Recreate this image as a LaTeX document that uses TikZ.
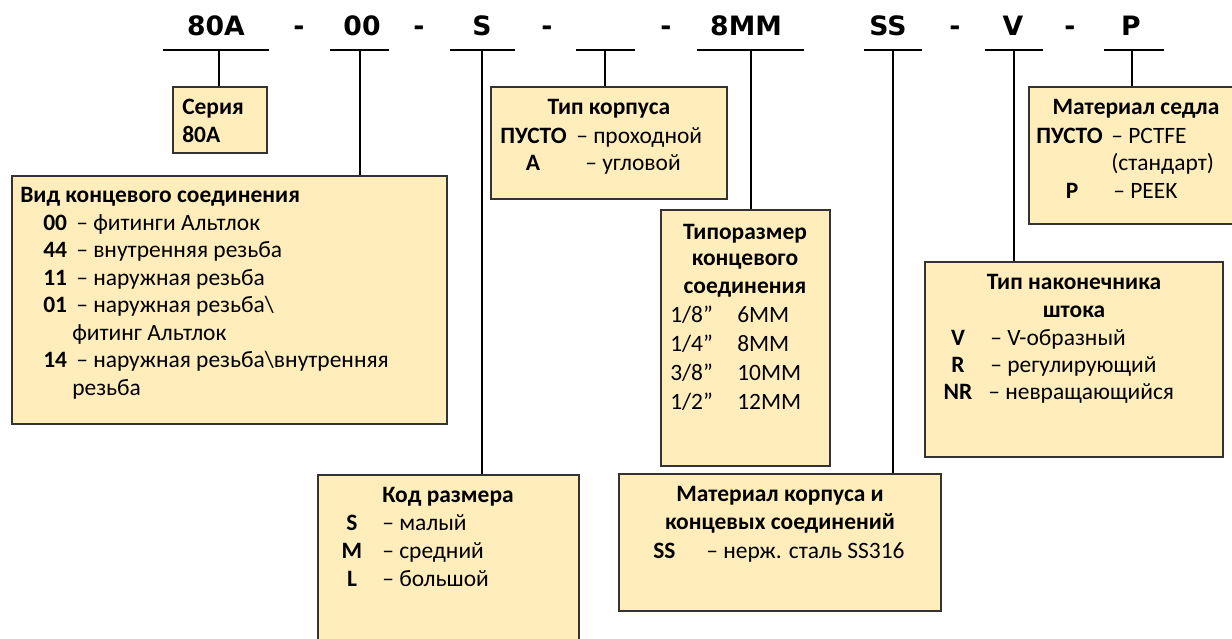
\documentclass[tikz,border=0pt]{standalone}
\usepackage{fontspec}
\setmainfont{Carlito}
\newfontfamily\codefont{DejaVu Sans}
\usetikzlibrary{fit}
\definecolor{boxfill}{HTML}{FFEEBB}
\definecolor{boxline}{HTML}{333333}
\tikzset{
  box/.style={draw=boxline, fill=boxfill, line width=1.1pt, inner sep=0pt},
  conn/.style={draw=black, line width=0.8pt},
  uline/.style={draw=black, line width=0.8pt},
  code/.style={inner sep=0pt, anchor=base, font=\codefont\bfseries\fontsize{20}{24}\selectfont},
  txt/.style={inner sep=0pt, anchor=base west, font=\fontsize{17.6}{21}\selectfont},
  txtc/.style={inner sep=0pt, anchor=base, font=\fontsize{17.6}{21}\selectfont},
  bt/.style={txt, font=\bfseries\fontsize{17.6}{21}\selectfont},
  btc/.style={txtc, font=\bfseries\fontsize{17.6}{21}\selectfont},
}
\begin{document}
\begin{tikzpicture}[x=0.75pt, y=-0.75pt]
\useasboundingbox (0,0) rectangle (1232,639);
\clip (0,0) rectangle (1232,639);

% ---------- code line ----------
\node[code] (c1) at (216,35) {80A};
\node[code] (d1) at (299,35) {-};
\node[code] (c2) at (362,35) {00};
\node[code] (d2) at (419,35) {-};
\node[code] (c3) at (482,35) {S};
\node[code] (d3) at (547,35) {-};
\node[code] (d4) at (666,35) {-};
\node[code] (c5) at (746,35) {8MM};
\node[code] (c6) at (888,35) {SS};
\node[code] (d6) at (955,35) {-};
\node[code] (c7) at (1013,35) {V};
\node[code] (d7) at (1070,35) {-};
\node[code] (c8) at (1131,35) {P};

% underlines
\coordinate (a1) at (163,50);  \coordinate (b1) at (269,50);
\coordinate (a2) at (330,50);  \coordinate (b2) at (389,50);
\coordinate (a3) at (450,50);  \coordinate (b3) at (515,50);
\coordinate (a4) at (576,50);  \coordinate (b4) at (635,50);
\coordinate (a5) at (697,50);  \coordinate (b5) at (804,50);
\coordinate (a6) at (864,50);  \coordinate (b6) at (922,50);
\coordinate (a7) at (985,50);  \coordinate (b7) at (1043,50);
\coordinate (a8) at (1104,50); \coordinate (b8) at (1164,50);
\foreach \i in {1,...,8} {\draw[uline] (a\i) -- (b\i);}

% connector start points
\coordinate (u1) at (219,50);
\coordinate (u2) at (360,50);
\coordinate (u3) at (482,50);
\coordinate (u4) at (605,50);
\coordinate (u5) at (751,50);
\coordinate (u6) at (893,50);
\coordinate (u7) at (1014,50);
\coordinate (u8) at (1132,50);

% ---------- boxes ----------
\node[box, fit={(173,87) (267,153)}] (ser) {};
\node[box, fit={(12,176) (447,424)}] (vid) {};
\node[box, fit={(491,87) (727,199)}] (tipk) {};
\node[box, fit={(661,210) (830,466)}] (tipr) {};
\node[box, fit={(1029,87) (1245,224)}] (msed) {};
\node[box, fit={(925,262) (1223,457)}] (tnak) {};
\node[box, fit={(318,475) (579,655)}] (kod) {};
\node[box, fit={(619,474) (941,611)}] (mkor) {};

% ---------- connectors ----------
\draw[conn] (u1) -- (u1 |- ser.north);
\draw[conn] (u2) -- (u2 |- vid.north);
\draw[conn] (u3) -- (u3 |- kod.north);
\draw[conn] (u4) -- (u4 |- tipk.north);
\draw[conn] (u5) -- (u5 |- tipr.north);
\draw[conn] (u6) -- (u6 |- mkor.north);
\draw[conn] (u7) -- (u7 |- tnak.north);
\draw[conn] (u8) -- (u8 |- msed.north);

% ---------- Серия ----------
\node[bt] (s1) at (182,114) {Серия};
\node[bt] (s2) at (182,142) {80A};

% ---------- Вид концевого соединения ----------
\node[bt] (v0) at (20,202) {Вид концевого соединения};
\node[bt] (v1a) at (43,230) {00}; \node[txt] (v1b) at (76,230) {– фитинги Альтлок};
\node[bt] (v2a) at (43,257) {44}; \node[txt] (v2b) at (76,257) {– внутренняя резьба};
\node[bt] (v3a) at (43,285) {11}; \node[txt] (v3b) at (76,285) {– наружная резьба};
\node[bt] (v4a) at (43,312) {01}; \node[txt] (v4b) at (76,312) {– наружная резьба\textbackslash};
\node[txt] (v5) at (72,340) {фитинг Альтлок};
\node[bt] (v6a) at (43,367) {14}; \node[txt] (v6b) at (76,367) {– наружная резьба\textbackslash внутренняя};
\node[txt] (v7) at (72,395) {резьба};

% ---------- Тип корпуса ----------
\node[btc] (k0) at (609,114) {Тип корпуса};
\node[bt] (k1a) at (500,143) {ПУСТО}; \node[txt] (k1b) at (576,143) {– проходной};
\node[btc] (k2a) at (533,170) {А}; \node[txt] (k2b) at (585,170) {– угловой};

% ---------- Типоразмер ----------
\node[btc] (r0) at (745,239) {Типоразмер};
\node[btc] (r1) at (745,265) {концевого};
\node[btc] (r2) at (745,293) {соединения};
\node[txt] (r3a) at (670,322) {1/8”}; \node[txt] (r3b) at (737,322) {6MM};
\node[txt] (r4a) at (670,351) {1/4”}; \node[txt] (r4b) at (737,351) {8MM};
\node[txt] (r5a) at (670,380) {3/8”}; \node[txt] (r5b) at (737,380) {10MM};
\node[txt] (r6a) at (670,409) {1/2”}; \node[txt] (r6b) at (737,409) {12MM};

% ---------- Материал седла ----------
\node[btc] (m0) at (1136,114) {Материал седла};
\node[bt] (m1a) at (1036,143) {ПУСТО}; \node[txt] (m1b) at (1111,143) {– PCTFE};
\node[txt] (m2) at (1111,170) {(стандарт)};
\node[btc] (m3a) at (1072,198) {P}; \node[txt] (m3b) at (1113,198) {– PEEK};

% ---------- Тип наконечника штока ----------
\node[btc] (n0) at (1074,289) {Тип наконечника};
\node[btc] (n1) at (1074,317) {штока};
\node[btc] (n2a) at (958,345) {V};  \node[txt] (n2b) at (990,345) {– V-образный};
\node[btc] (n3a) at (958,372) {R};  \node[txt] (n3b) at (990,372) {– регулирующий};
\node[btc] (n4a) at (958,399) {NR}; \node[txt] (n4b) at (988,399) {– невращающийся};

% ---------- Код размера ----------
\node[btc] (z0) at (448,502) {Код размера};
\node[btc] (z1a) at (352,530) {S}; \node[txt] (z1b) at (382,530) {– малый};
\node[btc] (z2a) at (352,558) {M}; \node[txt] (z2b) at (382,558) {– средний};
\node[btc] (z3a) at (352,586) {L}; \node[txt] (z3b) at (382,586) {– большой};

% ---------- Материал корпуса ----------
\node[btc] (p0) at (780,501) {Материал корпуса и};
\node[btc] (p1) at (780,529) {концевых соединений};
\node[bt] (p2a) at (653,558) {SS}; \node[txt] (p2b) at (706,558) {– нерж. сталь SS316};
\end{tikzpicture}
\end{document}
